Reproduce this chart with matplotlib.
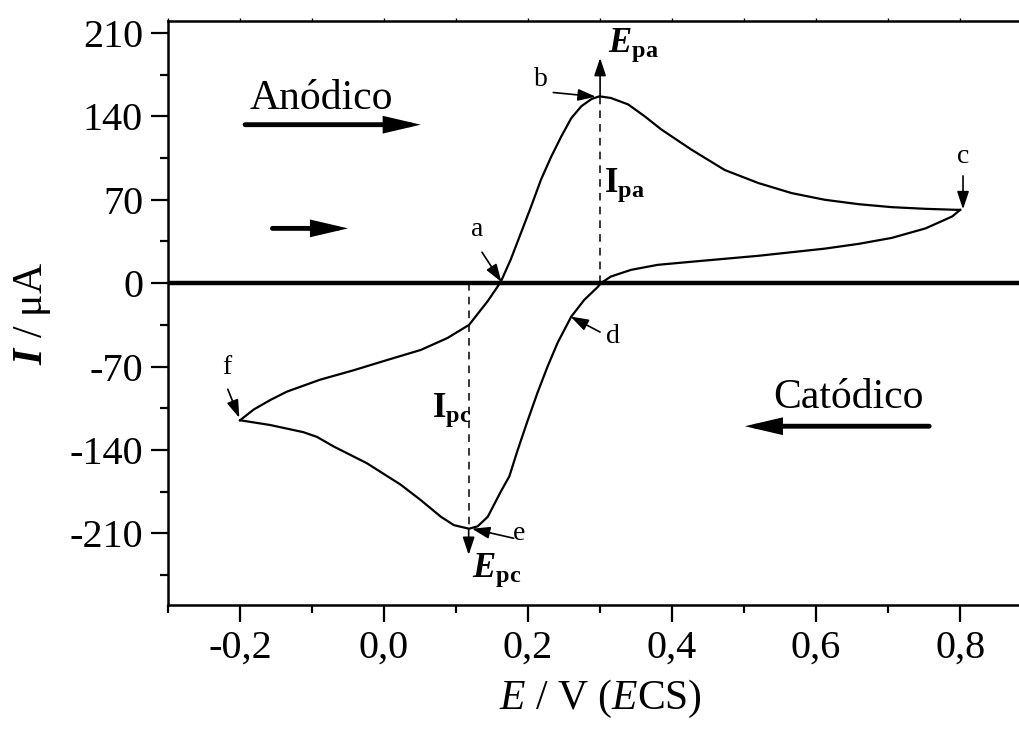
import matplotlib
matplotlib.use("Agg")
import matplotlib.pyplot as plt
from matplotlib.ticker import MultipleLocator, FuncFormatter

plt.rcParams['font.family'] = ['Liberation Serif', 'DejaVu Serif']
plt.rcParams['mathtext.fontset'] = 'custom'
plt.rcParams['mathtext.rm'] = 'Liberation Serif'
plt.rcParams['mathtext.it'] = 'Liberation Serif:italic'
plt.rcParams['mathtext.bf'] = 'Liberation Serif:bold'
plt.rcParams['mathtext.bfit'] = 'Liberation Serif:bold:italic'

# anodic scan f -> a -> b -> c
E_an = [-0.200, -0.181, -0.158, -0.135, -0.089, -0.042, 0.004, 0.051, 0.088, 0.118,
        0.144, 0.162, 0.176, 0.190, 0.204, 0.218, 0.232, 0.246, 0.260, 0.274,
        0.288, 0.299, 0.315, 0.339, 0.362, 0.385, 0.427, 0.473, 0.520, 0.566,
        0.612, 0.659, 0.705, 0.752, 0.793, 0.800]
I_an = [-115, -106, -98, -91, -81, -73, -64.5, -56, -46, -35,
        -15, 1, 20, 42, 64, 87, 106, 123, 138.5, 148.5,
        154.5, 156.8, 155.4, 150, 140, 129, 112, 95, 84, 75.6,
        70, 66.3, 63.8, 62.4, 61.6, 61.5]

# cathodic scan c -> d -> e -> f
E_ca = [0.800, 0.789, 0.752, 0.705, 0.659, 0.612, 0.520, 0.427, 0.380, 0.343,
        0.315, 0.301, 0.297, 0.278, 0.260, 0.241, 0.227, 0.213, 0.199, 0.185,
        0.174, 0.162, 0.144, 0.130, 0.118, 0.097, 0.079, 0.051, 0.023, -0.024,
        -0.070, -0.093, -0.112, -0.158, -0.200]
I_ca = [61.5, 56, 46, 38, 33, 29, 23, 18, 15.4, 11.2,
        5.6, 0, -3, -14, -28, -50, -70, -92, -116, -141,
        -162, -175, -196, -204, -206, -203, -196, -182, -169, -151,
        -137, -129, -125, -119, -115]

E_pa, I_pa = 0.300, 156.8
E_pc, I_pc = 0.1175, -206

# point labels: (text, label pos, arrow tail, arrow head)
point_labels = [
    ('a', (0.130, 45), (0.136, 26), (0.163, 1)),
    ('b', (0.218, 171), (0.235, 160), (0.294, 156.5)),
    ('c', (0.804, 106), (0.804, 90), (0.804, 62)),
    ('d', (0.318, -45), (0.300, -41), (0.259, -28)),
    ('e', (0.188, -210), (0.180, -214), (0.122, -206)),
    ('f', (-0.219, -71), (-0.217, -89), (-0.201, -113)),
]

fig = plt.figure(figsize=(10.19, 7.29), dpi=100)
ax = fig.add_axes([0.1649, 0.1701, 0.848, 0.8011])

ax.axhline(0, color='k', lw=3.2, zorder=1)
ax.plot(E_an, I_an, color='k', lw=1.6, zorder=3, solid_joinstyle='round')
ax.plot(E_ca, I_ca, color='k', lw=1.6, zorder=3, solid_joinstyle='round')

# peak markers
ax.plot([E_pa, E_pa], [0, I_pa], color='k', lw=1.1, ls=(0, (5, 4)))
ax.plot([E_pc, E_pc], [0, I_pc], color='k', lw=1.1, ls=(0, (5, 4)))
thin = dict(arrowstyle='-|>,head_length=0.9,head_width=0.3', color='k', lw=1.2,
            shrinkA=0, shrinkB=0, mutation_scale=12)
ax.annotate('', xy=(E_pa, 189), xytext=(E_pa, I_pa), arrowprops=thin)
ax.annotate('', xy=(E_pc, -228), xytext=(E_pc, I_pc), arrowprops=thin)

ax.text(0.311, 200, r'$\mathbfit{E}_{\mathbf{pa}}$', fontsize=25, ha='left', va='center')
ax.text(0.306, 82, r'$\mathbf{I}_{\mathbf{pa}}$', fontsize=25, ha='left', va='center')
ax.text(0.066, -107, r'$\mathbf{I}_{\mathbf{pc}}$', fontsize=25, ha='left', va='center')
ax.text(0.122, -241, r'$\mathbfit{E}_{\mathbf{pc}}$', fontsize=25, ha='left', va='center')

for lab, tpos, tail, head in point_labels:
    ax.text(tpos[0], tpos[1], lab, fontsize=20, ha='center', va='center')
    ax.annotate('', xy=head, xytext=tail, arrowprops=thin)

# scan direction arrows
big = dict(arrowstyle='-|>,head_length=1.5,head_width=0.35', color='k', lw=3.5,
           shrinkA=0, shrinkB=0, mutation_scale=12, joinstyle='miter')
ax.text(-0.087, 155, 'Anódico', fontsize=30, ha='center', va='center')
ax.annotate('', xy=(0.051, 133), xytext=(-0.193, 133), arrowprops=big)
ax.annotate('', xy=(-0.050, 46), xytext=(-0.155, 46), arrowprops=big)
ax.text(0.645, -96, 'Catódico', fontsize=30, ha='center', va='center')
ax.annotate('', xy=(0.501, -120), xytext=(0.757, -120), arrowprops=big)

ax.set_xlim(-0.3, 0.9)
ax.set_ylim(-270, 220)
ax.xaxis.set_minor_locator(MultipleLocator(0.1))
ax.set_xticks([-0.2, 0.0, 0.2, 0.4, 0.6, 0.8])
ax.yaxis.set_major_locator(MultipleLocator(70))
ax.yaxis.set_minor_locator(MultipleLocator(35))
ax.xaxis.set_major_formatter(FuncFormatter(lambda v, p: f'{v:.1f}'.replace('.', ',').replace('-0,0', '0,0')))
ax.yaxis.set_major_formatter(FuncFormatter(lambda v, p: f'{int(round(v))}'))

ax.tick_params(which='major', direction='out', length=12, width=1.6, labelsize=29, pad=6)
ax.tick_params(which='minor', direction='out', length=6, width=1.6)
ax.tick_params(axis='x', which='both', top=True, labeltop=False)
for s in ax.spines.values():
    s.set_linewidth(1.8)
ax.spines['right'].set_visible(False)

ax.set_xlabel(r'$\mathit{E}$ / V ($\mathit{E}$CS)', fontsize=30, labelpad=8)
ax.set_ylabel(r'$\mathbfit{I}$ / μA', fontsize=30, labelpad=12)

# top ticks short
for t in ax.xaxis.get_major_ticks() + ax.xaxis.get_minor_ticks():
    t.tick2line.set_markersize(2)
    t.tick2line.set_markeredgewidth(1.0)

fig.savefig('out.png', dpi=100)
